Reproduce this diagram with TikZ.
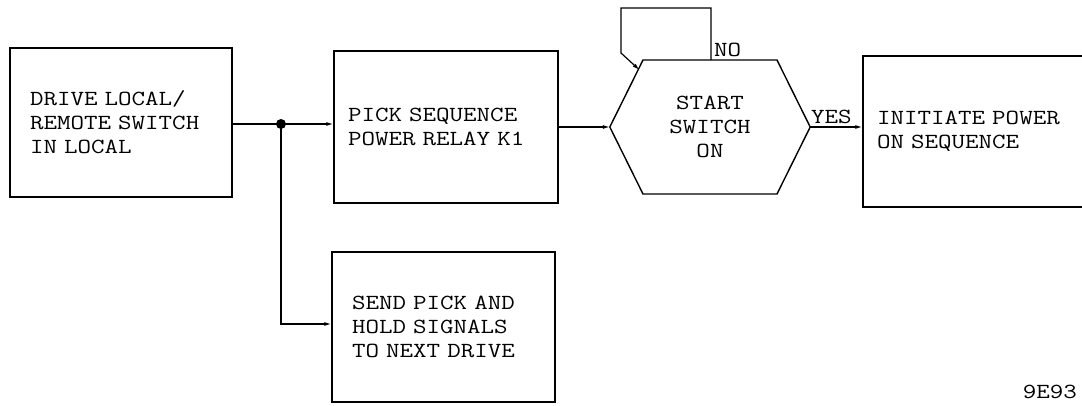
\documentclass[tikz,border=0pt]{standalone}
\usepackage{fontspec}
\setmainfont{Latin Modern Mono}[FakeStretch=1.22]
\usetikzlibrary{arrows.meta}
\begin{document}
\begin{tikzpicture}[x=1pt,y=-1pt,
  every node/.style={font=\fontsize{21.5}{24}\selectfont},
  blk/.style={draw,line width=1.4pt,rectangle,align=left,inner ysep=0pt},
  conn/.style={line width=1.2pt},
  arr/.style={conn,-{Latex[length=7pt,width=4pt]}},
  lbl/.style={inner sep=0pt}]
\useasboundingbox (0,0) rectangle (1082,405);
\node[blk,minimum width=222pt,minimum height=149pt,inner xsep=20pt,text width=182pt] (b1) at (121,122.5) {DRIVE LOCAL/\\REMOTE SWITCH\\IN LOCAL};
\node[blk,minimum width=224pt,minimum height=152pt,inner xsep=14pt,text width=196pt] (b2) at (446,127) {PICK SEQUENCE\\POWER RELAY K1};
\node[blk,minimum width=240pt,minimum height=151pt,inner xsep=14pt,text width=212pt] (b3) at (983,131.5) {INITIATE POWER\\ON SEQUENCE};
\node[blk,minimum width=223pt,minimum height=150pt,inner xsep=20pt,text width=183pt] (b4) at (443.5,327) {SEND PICK AND\\HOLD SIGNALS\\TO NEXT DRIVE};
\node[draw=none,minimum width=200pt,minimum height=134pt,align=center,inner sep=0pt] (dec) at (710,127) {START\\SWITCH\\ON};
\draw[line width=1.4pt] (dec.west) -- (643,60) -- (777,60) -- (dec.east) -- (777,194) -- (643,194) -- cycle;
\coordinate (dot) at (281,124);
\coordinate (noout) at (711,60);
\coordinate (noin) at (639.5,70);
\fill (dot) circle (5pt);
\draw[conn] (b1.east |- dot) -- (dot);
\draw[arr] (dot) -- (dot -| b2.west);
\draw[arr] (dot) |- (b4.west |- 0,324);
\draw[arr] (b2.east |- dec.west) -- (dec.west);
\draw[arr] (dec.east) -- (dec.east -| b3.west);
\draw[arr] (noout) -- (711,8) -- (621,8) -- (621,53) -- (noin);
\node[lbl,anchor=south west] (no) at (714,57) {NO};
\node[lbl,anchor=south west] (yes) at (811,124) {YES};
\node[lbl,anchor=south east] (code) at (1077,399) {9E93};
\end{tikzpicture}
\end{document}
